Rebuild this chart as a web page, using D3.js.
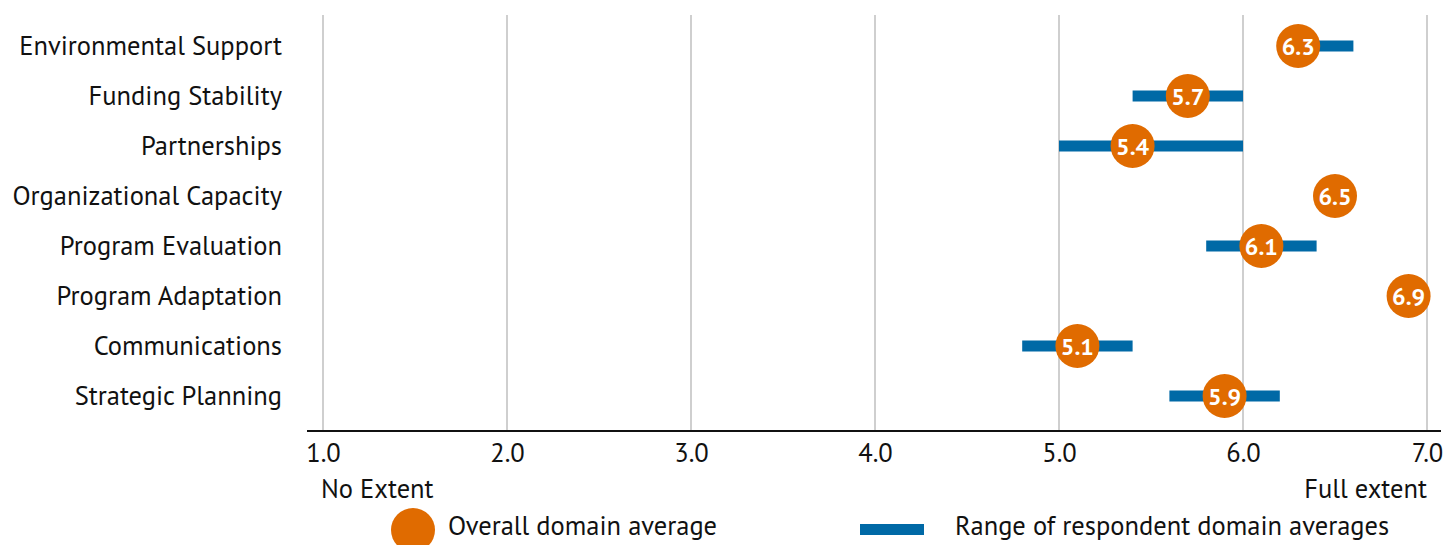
<!DOCTYPE html>
<html><head><meta charset="utf-8">
<script src="https://cdn.jsdelivr.net/npm/d3@7"></script>
<style>
body{margin:0;background:#fff;}
svg{display:block;font-family:"PT Sans","Noto Sans",sans-serif;}
</style></head>
<body><svg id="c" width="1446" height="545"></svg>
<script>
const categories = ["Environmental Support","Funding Stability","Partnerships","Organizational Capacity","Program Evaluation","Program Adaptation","Communications","Strategic Planning"];
const averages = [6.3,5.7,5.4,6.5,6.1,6.9,5.1,5.9];
const rangeMin = [6.2,5.4,5.0,6.4,5.8,6.8,4.8,5.6];
const rangeMax = [6.6,6.0,6.0,6.6,6.4,7.0,5.4,6.2];
const ticks = [1,2,3,4,5,6,7];
const endLabels = ["No Extent","Full extent"];
const legendLabels = ["Overall domain average","Range of respondent domain averages"];

const orange = "#E06B00", blue = "#0069A6";
const FS = 26.5;
const svg = d3.select("#c");
const x = d3.scaleLinear().domain([1,7]).range([323,1427]);
const y = d3.scalePoint().domain(categories).range([46,396]);

// gridlines
svg.append("g").selectAll("line").data(ticks).join("line")
  .attr("x1",d=>x(d)).attr("x2",d=>x(d)).attr("y1",15).attr("y2",431)
  .attr("stroke","#cfcfcf").attr("stroke-width",2);

// axis
const ax = svg.append("g").attr("transform","translate(0,431)")
  .call(d3.axisBottom(x).tickValues(ticks).tickFormat(d3.format(".1f")).tickSize(0).tickPadding(12));
ax.select(".domain").attr("d","M307,0H1441").attr("stroke","#111").attr("stroke-width",2);
ax.selectAll("text").attr("font-size",FS).attr("fill","#111").attr("font-family","PT Sans, Noto Sans, sans-serif");

// category labels
svg.append("g").selectAll("text").data(categories).join("text")
  .attr("x",282).attr("y",d=>y(d)).attr("dy","0.35em").attr("text-anchor","end")
  .attr("font-size",FS).attr("fill","#111").text(d=>d);

// range bars
const rows = categories.map((c,i)=>({c,avg:averages[i],lo:rangeMin[i],hi:rangeMax[i]}));
svg.append("g").selectAll("rect").data(rows).join("rect")
  .attr("x",d=>x(d.lo)).attr("width",d=>x(d.hi)-x(d.lo))
  .attr("y",d=>y(d.c)-5.5).attr("height",11).attr("fill",blue);

// circles
const g = svg.append("g").selectAll("g").data(rows).join("g")
  .attr("transform",d=>`translate(${x(d.avg)},${y(d.c)})`);
g.append("circle").attr("r",22).attr("fill",orange);
g.append("text").attr("text-anchor","middle").attr("dy","0.36em")
  .attr("font-size",24).attr("font-weight","bold").attr("fill","#fff")
  .text(d=>d3.format(".1f")(d.avg));

// end labels
svg.append("text").attr("x",x(1)-2).attr("y",489).attr("dy","0.35em")
  .attr("font-size",FS).attr("fill","#111").text(endLabels[0]);
svg.append("text").attr("x",x(7)).attr("y",489).attr("dy","0.35em").attr("text-anchor","end")
  .attr("font-size",FS).attr("fill","#111").text(endLabels[1]);

// legend
svg.append("circle").attr("cx",413).attr("cy",530).attr("r",22).attr("fill",orange);
svg.append("text").attr("x",448).attr("y",526).attr("dy","0.35em")
  .attr("font-size",FS).attr("fill","#111").text(legendLabels[0]);
svg.append("rect").attr("x",860).attr("y",524).attr("width",64).attr("height",11).attr("fill",blue);
svg.append("text").attr("x",955).attr("y",526).attr("dy","0.35em")
  .attr("font-size",FS).attr("fill","#111").text(legendLabels[1]);
</script></body></html>
